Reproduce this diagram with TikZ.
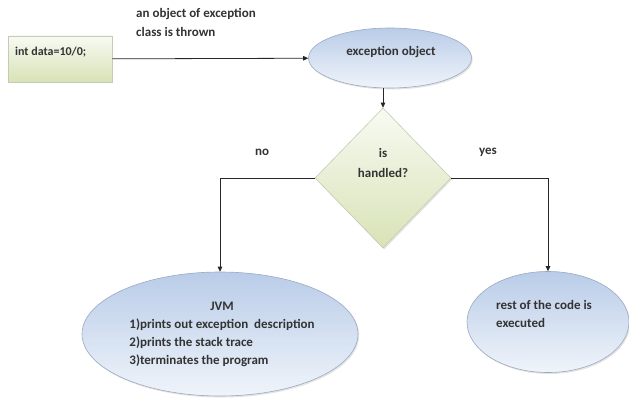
\documentclass[tikz,border=0pt]{standalone}
\usepackage{fontspec}
\setmainfont{Carlito}
\usetikzlibrary{shapes.geometric,arrows.meta,shadows}
\definecolor{elltop}{HTML}{B9CCE8}
\definecolor{ellbot}{HTML}{F0F4FA}
\definecolor{ellline}{HTML}{9AAAC4}
\definecolor{greentop}{HTML}{F8FAF2}
\definecolor{greenbot}{HTML}{D7E3B6}
\definecolor{greenline}{HTML}{C4CCB4}
\begin{document}
\begin{tikzpicture}[x=1pt,y=-1pt,
  every node/.style={font=\bfseries\fontsize{13}{18}\selectfont, text=black!80},
  softshadow/.style={drop shadow={opacity=0.22, shadow xshift=1.2pt, shadow yshift=-1.5pt}},
  ell/.style={ellipse, draw=ellline, line width=0.6pt, top color=elltop, bottom color=ellbot, inner sep=0pt, softshadow},
  codebox/.style={rectangle, draw=greenline, line width=0.6pt, top color=greentop, bottom color=greenbot, inner sep=0pt, softshadow},
  decision/.style={diamond, draw=greenline, line width=0.6pt, top color=greentop, bottom color=greenbot, inner sep=0pt, softshadow},
  arr/.style={draw=black!85, line width=0.8pt, -{Triangle[length=5pt,width=4.5pt]}},
  txt/.style={inner sep=0pt}
 ]
\useasboundingbox (0,0) rectangle (629,401);
\fill[white] (0,0) rectangle (629,401);
% code box
\node[codebox, minimum width=104pt, minimum height=46pt] (box) at (60,59) {};
\node[txt, anchor=west, font=\bfseries\fontsize{12}{14}\selectfont] (code) at (15,52) {int data=10/0;};
% label of first arrow
\node[txt, anchor=west, align=left, font=\bfseries\fontsize{13}{19}\selectfont] (lbl) at (136,22) {an object of exception\\class is thrown};
% exception object
\node[ell, minimum width=163pt, minimum height=60pt] (eobj) at (390,58) {};
\node[txt] (eobjtxt) at (391,52) {exception object};
% decision
\node[decision, minimum width=136pt, minimum height=140pt] (dia) at (383,178) {};
\node[txt, align=center, font=\bfseries\fontsize{13}{20}\selectfont] (diatxt) at (383,163) {is\\handled?};
% JVM
\node[ell, minimum width=276pt, minimum height=124pt] (jvm) at (220,334) {};
\node[txt] (jvmtxt) at (222,334) {%
  \begin{tabular}{@{}l@{}}\multicolumn{1}{c}{JVM}\\1)prints out exception\ \ description\\2)prints the stack trace\\3)terminates the program\end{tabular}};
% rest
\node[ell, minimum width=162pt, minimum height=101pt] (rest) at (548,322) {};
\node[txt, anchor=west, align=left] (resttxt) at (496,314) {rest of the code is\\executed};
% labels
\node[txt] (no) at (262,152) {no};
\node[txt] (yes) at (488,152) {yes};
% connectors
\draw[arr] (box) -- (eobj);
\draw[arr] (dia.north |- eobj.south) -- (dia.north);
\draw[arr] (dia.west) -| (jvm.north);
\draw[arr] (dia.east) -| (rest.north);
\end{tikzpicture}
\end{document}
